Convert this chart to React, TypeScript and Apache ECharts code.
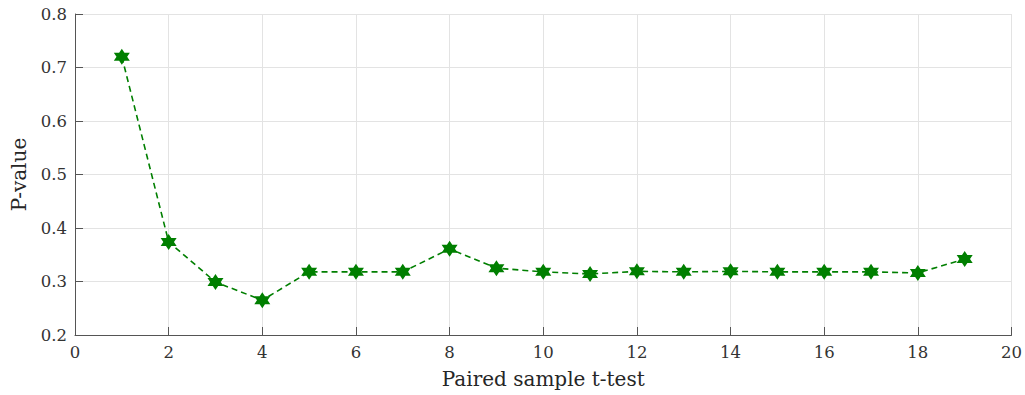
import React, { useEffect, useRef } from "react";
import * as echarts from "echarts";

const xValues = [1, 2, 3, 4, 5, 6, 7, 8, 9, 10, 11, 12, 13, 14, 15, 16, 17, 18, 19];
const pValues = [0.72, 0.374, 0.299, 0.265, 0.318, 0.318, 0.318, 0.361, 0.325, 0.318, 0.314, 0.319, 0.318, 0.319, 0.318, 0.318, 0.318, 0.316, 0.342];
const xLabel = "Paired sample t-test";
const yLabel = "P-value";

const hexagram =
  "path://M10,0 L12.887,5 L18.66,5 L15.77,10 L18.66,15 L12.887,15 L10,20 L7.113,15 L1.34,15 L4.23,10 L1.34,5 L7.113,5 Z";

export default function App() {
  const ref = useRef<HTMLDivElement>(null);
  useEffect(() => {
    if (!ref.current) return;
    const chart = echarts.init(ref.current, null, { renderer: "svg" });
    const axisColor = "#262626";
    const font = "DejaVu Serif";
    chart.setOption({
      animation: false,
      backgroundColor: "#ffffff",
      textStyle: { fontFamily: font },
      grid: { left: 75, right: 13, top: 14, bottom: 60 },
      xAxis: {
        type: "value",
        min: 0,
        max: 20,
        interval: 2,
        name: xLabel,
        nameLocation: "middle",
        nameGap: 34,
        nameTextStyle: { color: axisColor, fontSize: 20, fontFamily: font },
        axisLine: { show: true, onZero: false, lineStyle: { color: "#555555", width: 1 } },
        axisTick: { show: true, inside: true, length: 8, lineStyle: { color: "#555555" } },
        axisLabel: { color: "#333333", fontSize: 16.5, fontFamily: font, margin: 9 },
        splitLine: { show: true, lineStyle: { color: "#e3e3e3", width: 1 } },
      },
      yAxis: {
        type: "value",
        min: 0.2,
        max: 0.8,
        interval: 0.1,
        name: yLabel,
        nameLocation: "middle",
        nameGap: 46,
        nameTextStyle: { color: axisColor, fontSize: 20, fontFamily: font },
        axisLine: { show: true, onZero: false, lineStyle: { color: "#555555", width: 1 } },
        axisTick: { show: true, inside: true, length: 8, lineStyle: { color: "#555555" } },
        axisLabel: {
          color: "#333333",
          fontSize: 16.5,
          fontFamily: font,
          margin: 8,
          formatter: (v: number) => v.toFixed(1),
        },
        splitLine: { show: true, lineStyle: { color: "#e3e3e3", width: 1 } },
      },
      series: [
        {
          type: "line",
          data: xValues.map((x, i) => [x, pValues[i]]),
          symbol: hexagram,
          symbolSize: 16,
          itemStyle: { color: "#007f00", borderWidth: 0 },
          lineStyle: { color: "#007f00", width: 1.6, type: [6, 4] },
        },
      ],
    });
    return () => chart.dispose();
  }, []);
  return (
    <div
      ref={ref}
      style={{ position: "fixed", left: 0, top: 0, width: 1025, height: 395 }}
    />
  );
}
